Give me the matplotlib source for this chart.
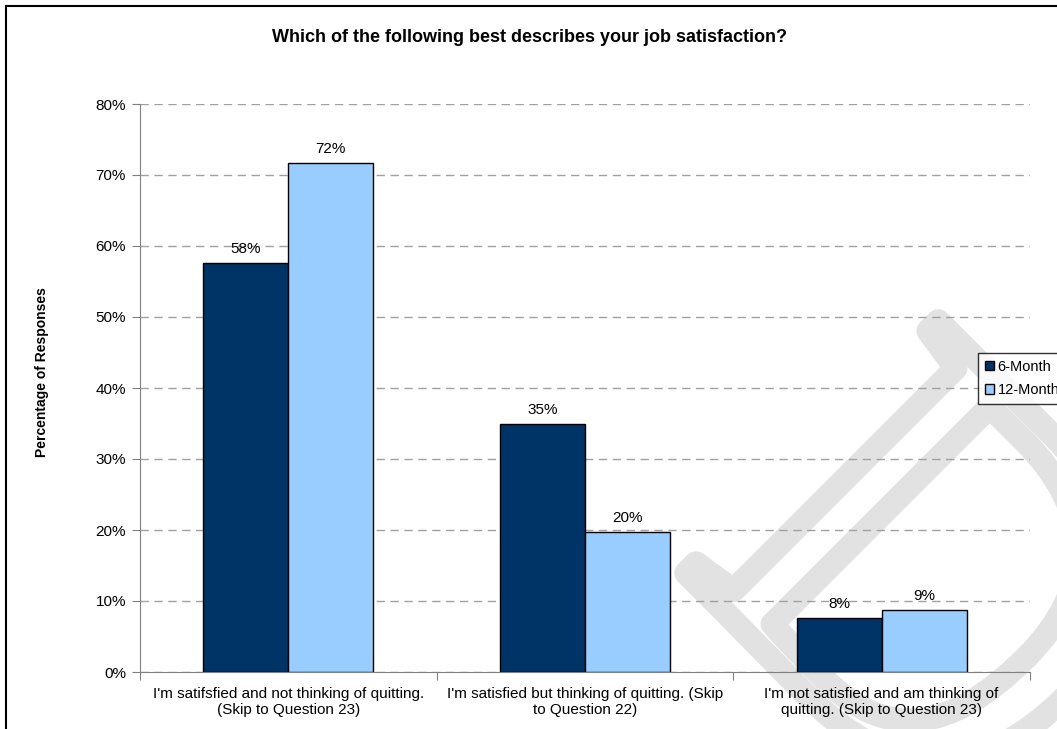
import numpy as np
import matplotlib.pyplot as plt
import matplotlib.patheffects as pe
from matplotlib.patches import Rectangle

plt.rcParams['font.family'] = ['Liberation Sans', 'DejaVu Sans']

# Data
categories = ["I'm satifsfied and not thinking of quitting.\n(Skip to Question 23)",
              "I'm satisfied but thinking of quitting. (Skip\nto Question 22)",
              "I'm not satisfied and am thinking of\nquitting. (Skip to Question 23)"]
series_names = ["6-Month", "12-Month"]
six_month = [57.6, 35.0, 7.6]
twelve_month = [71.7, 19.7, 8.7]
labels_6 = ["58%", "35%", "8%"]
labels_12 = ["72%", "20%", "9%"]
yticks = [0, 10, 20, 30, 40, 50, 60, 70, 80]

W, H = 1057, 729
fig = plt.figure(figsize=(W / 100, H / 100), dpi=100)
ax = fig.add_axes([140 / W, 1 - 672 / H, 890 / W, 568 / H])
ax.set_facecolor('none')

# outlined DRAFT watermark, mostly outside the picture
wm = fig.text(675 / W, 1 - 562 / H, "DRAFT", fontsize=392, rotation=-45, rotation_mode='anchor',
              ha='left', va='baseline', family='Liberation Serif', color='none', zorder=-5)
wm.set_path_effects([pe.withStroke(linewidth=17, foreground='#e2e2e2')])

x = np.arange(len(categories))
w = 0.287
ax.bar(x - w / 2, six_month, w, color='#003366', edgecolor='black', lw=1, label=series_names[0], zorder=3)
ax.bar(x + w / 2, twelve_month, w, color='#99CCFF', edgecolor='black', lw=1, label=series_names[1], zorder=3)

for i in range(len(categories)):
    ax.annotate(labels_6[i], (x[i] - w / 2, six_month[i]), xytext=(0, 5), textcoords='offset points',
                ha='center', va='bottom', fontsize=11, zorder=4)
    ax.annotate(labels_12[i], (x[i] + w / 2, twelve_month[i]), xytext=(0, 5), textcoords='offset points',
                ha='center', va='bottom', fontsize=11, zorder=4)

ax.set_xlim(-0.5, 2.5)
ax.set_ylim(0, 80)
ax.set_yticks(yticks)
ax.set_yticklabels([f"{t}%" for t in yticks], fontsize=11)
ax.yaxis.grid(True, color='#a0a0a0', linestyle=(0, (6, 4)), lw=1)
ax.set_axisbelow(True)

ax.set_xticks([-0.5, 0.5, 1.5, 2.5])
ax.set_xticklabels([])
ax.set_xticks(x, minor=True)
ax.set_xticklabels(categories, minor=True, fontsize=11, linespacing=1.15)
ax.tick_params(axis='x', which='minor', length=0, pad=11)
ax.tick_params(axis='x', which='major', length=6, color='#808080', direction='out')
ax.tick_params(axis='y', length=6, color='#808080', direction='out', pad=4)

for s in ['top', 'right']:
    ax.spines[s].set_visible(False)
for s in ['left', 'bottom']:
    ax.spines[s].set_color('#808080')

fig.text(42 / W, 1 - 372 / H, "Percentage of Responses", rotation=90, ha='center', va='center',
         fontsize=10, fontweight='bold')
fig.text(529 / W, 1 - 37 / H, "Which of the following best describes your job satisfaction?",
         ha='center', va='center', fontsize=13, fontweight='bold')

leg = fig.legend(loc='upper left', bbox_to_anchor=(978 / W, 1 - 353 / H), fontsize=10.5,
                 frameon=True, fancybox=False, edgecolor='black', handlelength=0.65,
                 handleheight=0.65, handletextpad=0.25, borderpad=0.45, labelspacing=0.65,
                 borderaxespad=0)
leg.get_frame().set_linewidth(1)

# chart area border (extends past the image edge)
fig.patches.append(Rectangle((6 / W, -0.1), 1.2, 1 - 6 / H + 0.1, transform=fig.transFigure,
                             fill=False, edgecolor='black', lw=1.5))

fig.savefig("out.png", dpi=100)
